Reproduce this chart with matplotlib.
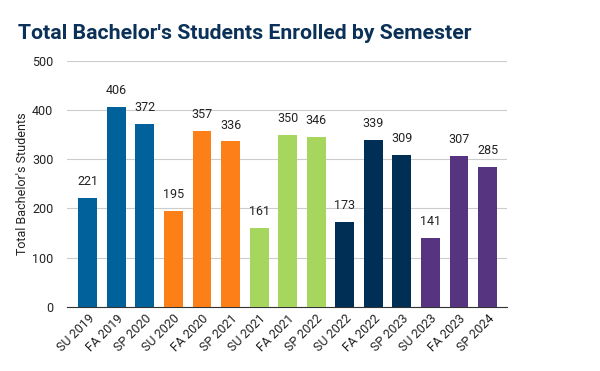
import matplotlib.pyplot as plt
import numpy as np

plt.rcParams['font.family'] = ['Roboto', 'DejaVu Sans']

# data
semesters = ['SU 2019', 'FA 2019', 'SP 2020', 'SU 2020', 'FA 2020', 'SP 2021',
             'SU 2021', 'FA 2021', 'SP 2022', 'SU 2022', 'FA 2022', 'SP 2023',
             'SU 2023', 'FA 2023', 'SP 2024']
students = [221, 406, 372, 195, 357, 336, 161, 350, 346, 173, 339, 309, 141, 307, 285]
year_colors = ['#01629b', '#fd7f17', '#a6d65e', '#002f56', '#573480']

colors = [year_colors[i // 3] for i in range(len(students))]

fig = plt.figure(figsize=(6, 3.71), dpi=100)
ax = fig.add_axes([0.112, 0.1725, 0.733, 0.664])

x = np.arange(len(students))
bars = ax.bar(x, students, width=0.66, color=colors, zorder=3)
for b, v in zip(bars, students):
    ax.annotate(str(v), (b.get_x() + b.get_width() / 2, v), xytext=(0, 7),
                textcoords='offset points', ha='center', va='bottom',
                fontsize=9, color='#222222')

ax.set_ylim(0, 500)
ax.set_xlim(-0.72, len(students) - 0.32)
ax.set_yticks(range(0, 501, 100))
ax.yaxis.grid(True, color='#cccccc', linewidth=0.8, zorder=0)
for s in ['top', 'right', 'left']:
    ax.spines[s].set_visible(False)
ax.spines['bottom'].set_color('#333333')
ax.tick_params(axis='both', length=0, labelsize=9, colors='#222222')
ax.tick_params(axis='y', pad=10)
ax.set_xticks(x)
ax.set_xticklabels(semesters, rotation=45, ha='right', rotation_mode='anchor')
ax.set_ylabel("Total Bachelor's Students", fontsize=9, color='#222222', labelpad=2)

fig.text(0.03, 0.895, "Total Bachelor's Students Enrolled by Semester",
         fontsize=15.3, fontweight='bold', color='#0b3158')

fig.savefig('out.png', dpi=100)
